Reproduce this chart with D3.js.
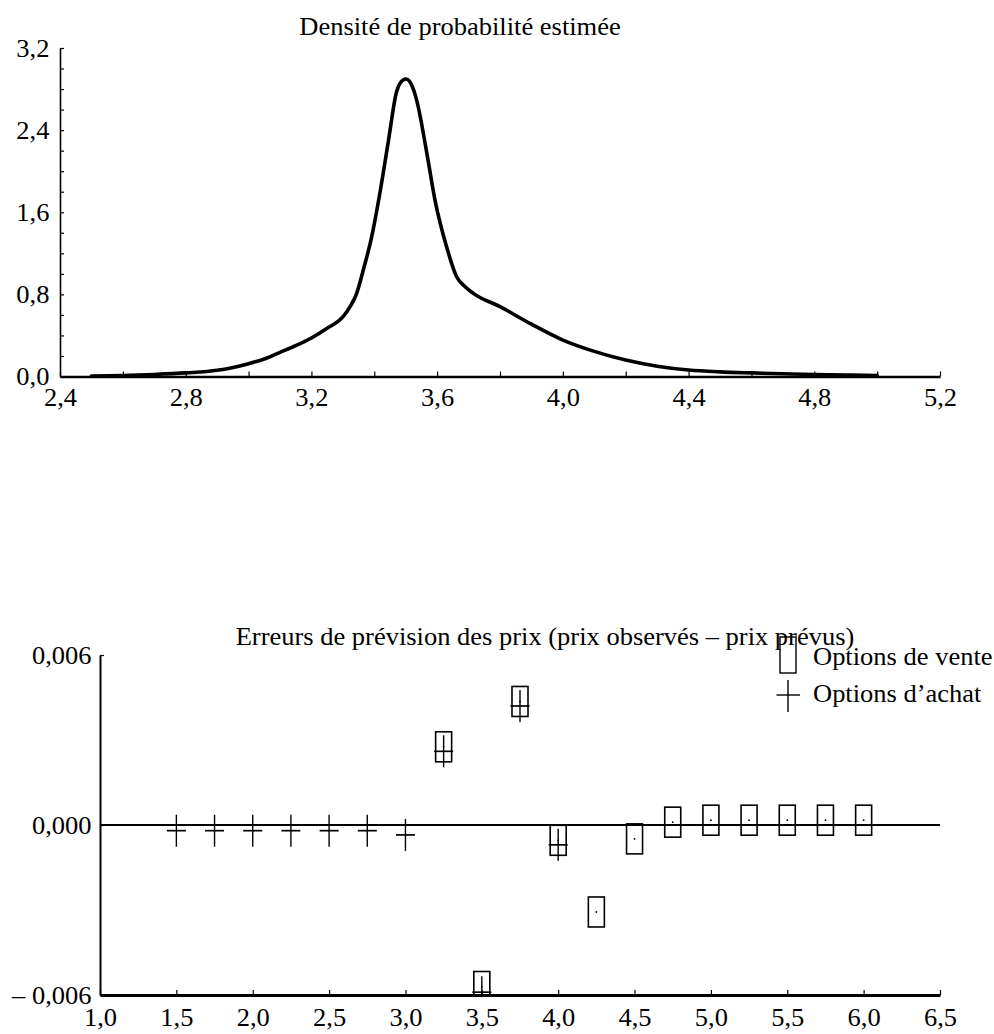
<!DOCTYPE html>
<html>
<head>
<meta charset="utf-8">
<script src="https://cdn.jsdelivr.net/npm/d3@7"></script>
<style>
  body { margin: 0; background: #fff; }
  svg { display: block; }
  text { font-family: "Liberation Serif", "Times New Roman", serif; font-size: 25px; fill: #000; }
</style>
</head>
<body>
<svg id="chart" width="994" height="1034"></svg>
<script>
// ---- Estimated probability density (underlying price) ----
const densityX = [2.5, 2.6, 2.7, 2.8, 2.9, 3.0, 3.05, 3.1, 3.15, 3.2, 3.25, 3.3, 3.323, 3.344, 3.365,
  3.392, 3.418, 3.444, 3.471, 3.482, 3.501, 3.519, 3.535, 3.567, 3.593, 3.63, 3.662, 3.689, 3.715,
  3.8, 3.9, 4.0, 4.1, 4.2, 4.3, 4.4, 4.5, 4.6, 4.7, 4.8, 4.9, 5.0];
const densityY = [0.005, 0.01, 0.02, 0.035, 0.06, 0.125, 0.17, 0.235, 0.30, 0.375, 0.47, 0.58, 0.68, 0.81, 1.037,
  1.365, 1.79, 2.276, 2.774, 2.856, 2.898, 2.84, 2.69, 2.179, 1.721, 1.264, 0.972, 0.875, 0.81,
  0.68, 0.51, 0.355, 0.245, 0.16, 0.10, 0.063, 0.045, 0.035, 0.027, 0.02, 0.014, 0.01];
const densityXTicks = [2.4, 2.8, 3.2, 3.6, 4.0, 4.4, 4.8, 5.2];
const densityYTicks = [0, 0.8, 1.6, 2.4, 3.2];

// ---- Pricing errors (observed - predicted) by strike ----
const callStrikes = [1.5, 1.75, 2.0, 2.25, 2.5, 2.75, 3.0, 3.25, 3.5, 3.75, 4.0];
const callErrors  = [-0.0002, -0.0002, -0.0002, -0.0002, -0.0002, -0.0002, -0.00035, 0.0026, -0.0059, 0.0042, -0.0007];
const putStrikes  = [3.25, 3.5, 3.75, 4.0, 4.25, 4.5, 4.75, 5.0, 5.25, 5.5, 5.75, 6.0];
const putErrors   = [0.00276, -0.0057, 0.00436, -0.00054, -0.00307, -0.00049, 0.0001, 0.00017, 0.00017, 0.00017, 0.00017, 0.00017];
const errorXTicks = [1.0, 1.5, 2.0, 2.5, 3.0, 3.5, 4.0, 4.5, 5.0, 5.5, 6.0, 6.5];
const errorYTicks = [-0.006, 0, 0.006];

const titleTop = "Densité de probabilité estimée";
const titleBottom = "Erreurs de prévision des prix (prix observés – prix prévus)";
const legendLabels = ["Options de vente", "Options d\u2019achat"];

const svg = d3.select("#chart");
const STRETCH = "scale(1.06,1)";

const locale = d3.formatLocale({ decimal: ",", thousands: " ", grouping: [3], currency: ["", ""] });
const f1 = locale.format(".1f");
const f3 = locale.format(".3f");
const fErr = d => (d < 0 ? "\u2013 " : "") + f3(Math.abs(d));

function label(sel, x, y, txt, anchor) {
  return sel.append("text")
    .attr("transform", `translate(${x},${y}) ${STRETCH}`)
    .attr("text-anchor", anchor)
    .text(txt);
}

// ================= Density chart =================
const x1 = d3.scaleLinear().domain([2.4, 5.2]).range([60, 940]);
const y1 = d3.scaleLinear().domain([0, 3.2]).range([376.5, 48]);

const gDensity = svg.append("g");

const minorX1 = d3.range(0, 15).map(i => +(2.4 + i * 0.2).toFixed(1));
const minorY1 = d3.range(0, 17).map(i => +(i * 0.2).toFixed(1));

const ax1 = gDensity.append("g").attr("transform", `translate(0,${y1(0)})`)
  .call(d3.axisBottom(x1).tickValues(minorX1).tickSizeInner(-5).tickSizeOuter(0).tickPadding(12)
    .tickFormat(d => densityXTicks.some(t => Math.abs(t - d) < 1e-9) ? f1(d) : ""));
ax1.select(".domain").attr("stroke-width", 2.6);
ax1.selectAll(".tick line").attr("stroke-width", 1.2);
ax1.selectAll("text").attr("transform", STRETCH);

const ay1 = gDensity.append("g").attr("transform", `translate(${x1(2.4)},0)`)
  .call(d3.axisLeft(y1).tickValues(minorY1).tickSizeInner(-4).tickSizeOuter(0).tickPadding(10)
    .tickFormat(d => densityYTicks.some(t => Math.abs(t - d) < 1e-9) ? f1(d) : ""));
ay1.select(".domain").attr("stroke-width", 1.6);
ay1.selectAll(".tick line").attr("stroke-width", 1.2);
ay1.selectAll("text").attr("transform", STRETCH);

const line1 = d3.line()
  .x((d, i) => x1(densityX[i]))
  .y(d => y1(d))
  .curve(d3.curveMonotoneX);

gDensity.append("path")
  .datum(densityY)
  .attr("fill", "none")
  .attr("stroke", "#000")
  .attr("stroke-width", 3.6)
  .attr("stroke-linejoin", "round")
  .attr("stroke-linecap", "round")
  .attr("d", line1);

label(gDensity, 460, 35, titleTop, "middle");

// ================= Pricing error chart =================
const x2 = d3.scaleLinear().domain([1.0, 6.5]).range([100, 940]);
const y2 = d3.scaleLinear().domain([-0.006, 0.006]).range([995, 655]);

const gErrors = svg.append("g");

svg.append("defs").append("clipPath").attr("id", "plot2")
  .append("rect")
  .attr("x", x2(1.0)).attr("y", y2(0.006))
  .attr("width", x2(6.5) - x2(1.0)).attr("height", y2(-0.006) - y2(0.006));

// zero reference line
gErrors.append("line")
  .attr("x1", x2(1.0)).attr("x2", x2(6.5))
  .attr("y1", y2(0)).attr("y2", y2(0))
  .attr("stroke", "#000").attr("stroke-width", 1.8);

const marks = gErrors.append("g").attr("clip-path", "url(#plot2)");

// puts: open rectangles with a centre dot
const BW = 16, BH = 30;
const puts = marks.selectAll("g.put").data(putErrors).join("g").attr("class", "put")
  .attr("transform", (d, i) => `translate(${x2(putStrikes[i])},${y2(d)})`);
puts.append("rect")
  .attr("x", -BW / 2).attr("y", -BH / 2).attr("width", BW).attr("height", BH)
  .attr("fill", "none").attr("stroke", "#000").attr("stroke-width", 1.6);
puts.append("circle").attr("r", 0.9).attr("fill", "#000");

// calls: plus signs
const CW = 9.5, CH = 16;
const calls = marks.selectAll("g.call").data(callErrors).join("g").attr("class", "call")
  .attr("transform", (d, i) => `translate(${x2(callStrikes[i])},${y2(d)})`);
calls.append("line").attr("x1", -CW).attr("x2", CW).attr("y1", 0).attr("y2", 0)
  .attr("stroke", "#000").attr("stroke-width", 1.7);
calls.append("line").attr("x1", 0).attr("x2", 0).attr("y1", -CH).attr("y2", CH)
  .attr("stroke", "#000").attr("stroke-width", 1.4);

const ax2 = gErrors.append("g").attr("transform", `translate(0,${y2(-0.006)})`)
  .call(d3.axisBottom(x2).tickValues(errorXTicks).tickSizeInner(-5).tickSizeOuter(0).tickPadding(13.5)
    .tickFormat(f1));
ax2.select(".domain").attr("stroke-width", 3);
ax2.selectAll(".tick line").attr("stroke-width", 1.2);
ax2.selectAll("text").attr("transform", STRETCH);

const ay2 = gErrors.append("g").attr("transform", `translate(${x2(1.0)},0)`)
  .call(d3.axisLeft(y2).tickValues(errorYTicks).tickSizeInner(-4).tickSizeOuter(0).tickPadding(8)
    .tickFormat(fErr));
ay2.select(".domain").attr("stroke-width", 2);
ay2.selectAll(".tick line").attr("stroke-width", 1.2);
ay2.selectAll("text").attr("transform", STRETCH);

label(gErrors, 545, 645, titleBottom, "middle");

// legend
const leg = gErrors.append("g");
leg.append("rect").attr("x", 780).attr("y", 637).attr("width", 16).attr("height", 36)
  .attr("fill", "none").attr("stroke", "#000").attr("stroke-width", 1.4);
leg.append("line").attr("x1", 776.5).attr("x2", 800).attr("y1", 695).attr("y2", 695)
  .attr("stroke", "#000").attr("stroke-width", 1.4);
leg.append("line").attr("x1", 788).attr("x2", 788).attr("y1", 680).attr("y2", 712)
  .attr("stroke", "#000").attr("stroke-width", 1.4);
label(leg, 813, 665, legendLabels[0], "start");
label(leg, 813, 702, legendLabels[1], "start");
</script>
</body>
</html>
